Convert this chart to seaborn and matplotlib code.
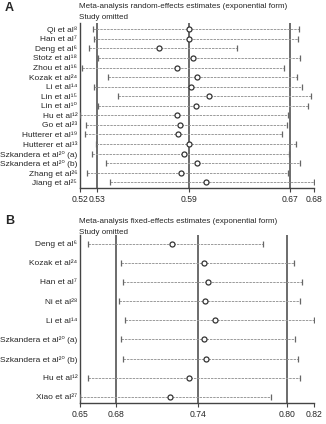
import numpy as np
import pandas as pd
import seaborn as sns
import matplotlib.pyplot as plt
from matplotlib.ticker import FormatStrFormatter

#------------------------------------------------------------------------------#
# Panel A: random-effects, one study omitted at a time
studies_a = ['Qi et al⁸', 'Han et al⁷', 'Deng et al⁶', 'Stotz et al¹⁸',
             'Zhou et al¹⁶', 'Kozak et al²⁴', 'Li et al¹⁴', 'Lin et al¹⁵',
             'Lin et al¹⁰', 'Hu et al¹²', 'Go et al²³', 'Hutterer et al¹⁹',
             'Hutterer et al¹³', 'Szkandera et al²⁰ (a)', 'Szkandera et al²⁰ (b)',
             'Zhang et al²⁶', 'Jiang et al²⁵']
lower_a = [0.5251, 0.5258, 0.5224, 0.5289, 0.5176, 0.5358, 0.5262, 0.5434,
           0.5289, 0.5160, 0.5203, 0.5198, 0.5272, 0.5248, 0.5346, 0.5212, 0.5374]
est_a   = [0.5939, 0.5939, 0.5724, 0.5965, 0.5853, 0.5996, 0.5955, 0.6079,
           0.5986, 0.5853, 0.5876, 0.5860, 0.5941, 0.5901, 0.5996, 0.5881, 0.6060]
upper_a = [0.6724, 0.6719, 0.6279, 0.6729, 0.6619, 0.6710, 0.6748, 0.6810,
           0.6786, 0.6646, 0.6639, 0.6605, 0.6705, 0.6651, 0.6729, 0.6648, 0.6834]
# min lower, overall lower, overall estimate, overall upper, max upper
ticks_a = [0.516, 0.528, 0.594, 0.666, 0.6834]

# Panel B: fixed-effects
studies_b = ['Deng et al⁶', 'Kozak et al²⁴', 'Han et al⁷', 'Ni et al²⁸',
             'Li et al¹⁴', 'Szkandera et al²⁰ (a)', 'Szkandera et al²⁰ (b)',
             'Hu et al¹²', 'Xiao et al²⁷']
lower_b = [0.6599, 0.6835, 0.6849, 0.6821, 0.6859, 0.6835, 0.6849, 0.6599, 0.6540]
est_b   = [0.7195, 0.7424, 0.7456, 0.7433, 0.7504, 0.7426, 0.7442, 0.7316, 0.7183]
upper_b = [0.7849, 0.8071, 0.8124, 0.8114, 0.8211, 0.8076, 0.8095, 0.8114, 0.7906]
ticks_b = [0.654, 0.6797, 0.7385, 0.8021, 0.8214]

#------------------------------------------------------------------------------#
sns.set_style('white')
plt.rcParams['font.family'] = ['Liberation Sans', 'DejaVu Sans']

W, H = 326, 424
fig = plt.figure(figsize=(W / 100, H / 100), dpi=100)


def forest(ax, studies, lower, est, upper, ticks, ypad):
    df = pd.DataFrame({'study': studies, 'lower': lower, 'est': est,
                       'upper': upper, 'pos': np.arange(len(studies))})

    # reference lines at overall CI and estimate
    for t in ticks[1:4]:
        ax.axvline(t, color='#444444', lw=1.1, zorder=1)

    ax.hlines(df['pos'], df['lower'], df['upper'], color='#9a9a9a', lw=0.7,
              linestyles=(0, (2.5, 1.0)), zorder=2)
    ax.plot(df['lower'], df['pos'], ls='none', marker='|', ms=5, mew=0.9,
            color='#666666', zorder=3)
    ax.plot(df['upper'], df['pos'], ls='none', marker='|', ms=5, mew=0.9,
            color='#666666', zorder=3)
    sns.scatterplot(data=df, x='est', y='pos', ax=ax, s=13, marker='o',
                    facecolor='white', edgecolor='#333333', linewidth=0.9,
                    zorder=4, legend=False)

    ax.set_xlim(ticks[0], ticks[0] + 234.4 / 1400)
    ax.set_ylim(len(studies) - 1 + ypad[1], -ypad[0])
    ax.set_yticks(df['pos'])
    ax.set_yticklabels(df['study'], fontsize=6)
    ax.set_xticks(ticks)
    ax.xaxis.set_major_formatter(FormatStrFormatter('%.2f'))
    ax.tick_params(axis='x', labelsize=6.2, length=3, width=0.8, pad=2,
                   bottom=True, color='#444444')
    ax.tick_params(axis='y', length=0, pad=2)
    ax.set_xlabel('')
    ax.set_ylabel('')
    sns.despine(ax=ax, top=True, right=True)
    for s in ['left', 'bottom']:
        ax.spines[s].set_color('#444444')
        ax.spines[s].set_linewidth(1.0)


# panel A axes: x 80..314 px, y 23..188 px
ax_a = fig.add_axes([80 / W, 1 - 188 / H, 234.4 / W, 165 / H])
forest(ax_a, studies_a, lower_a, est_a, upper_a, ticks_a, (0.66, 0.6))

# panel B axes: x 80..314 px, y 235..403 px
ax_b = fig.add_axes([80 / W, 1 - 403 / H, 234.4 / W, 168 / H])
forest(ax_b, studies_b, lower_b, est_b, upper_b, ticks_b, (0.45, 0.32))

# panel letters and titles
fig.text(5 / W, 1 - 8 / H, 'A', fontsize=9, fontweight='bold', va='center')
fig.text(79 / W, 1 - 7 / H,
         'Meta-analysis random-effects estimates (exponential form)',
         fontsize=5.8, va='center')
fig.text(79 / W, 1 - 17.5 / H, 'Study omitted', fontsize=5.8, va='center')

fig.text(5 / W, 1 - 221 / H, 'B', fontsize=9, fontweight='bold', va='center')
fig.text(79 / W, 1 - 221.5 / H,
         'Meta-analysis fixed-effects estimates (exponential form)',
         fontsize=5.8, va='center')
fig.text(79 / W, 1 - 232 / H, 'Study omitted', fontsize=5.8, va='center')

plt.savefig('out.png', dpi=100)
